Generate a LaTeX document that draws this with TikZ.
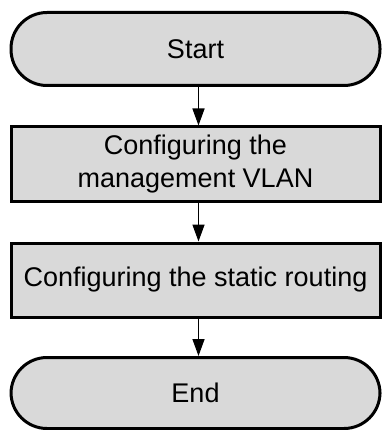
\documentclass[tikz,border=0pt]{standalone}
\usepackage{fontspec}
\setmainfont{Liberation Sans}
\usetikzlibrary{arrows.meta}
\definecolor{boxgray}{RGB}{217,217,217}
\tikzset{
  flowbox/.style={draw=black, line width=3pt, fill=boxgray, inner sep=0pt,
    minimum width=369pt, align=center,
    font=\fontsize{27}{33}\selectfont},
  terminal/.style={flowbox, rounded corners=36pt},
  flowarrow/.style={line width=1.5pt, -{Triangle[length=17pt,width=12pt]}}
}
\begin{document}
\begin{tikzpicture}[x=1pt,y=-1pt]
  \useasboundingbox (0,0) rectangle (382,430);
  \node[terminal, minimum height=73pt] (start) at (195.5,49) {Start};
  \node[flowbox, minimum height=74pt] (vlan) at (195.5,164) {Configuring the\\management VLAN};
  \node[flowbox, minimum height=74pt] (route) at (195.5,280) {Configuring the static routing};
  \node[terminal, minimum height=71pt] (end) at (195.5,393) {End};
  \draw[flowarrow] ([xshift=3pt]start.south) -- ([xshift=3pt]vlan.north);
  \draw[flowarrow] ([xshift=3pt]vlan.south) -- ([xshift=3pt]route.north);
  \draw[flowarrow] ([xshift=3pt]route.south) -- ([xshift=3pt]end.north);
\end{tikzpicture}
\end{document}
